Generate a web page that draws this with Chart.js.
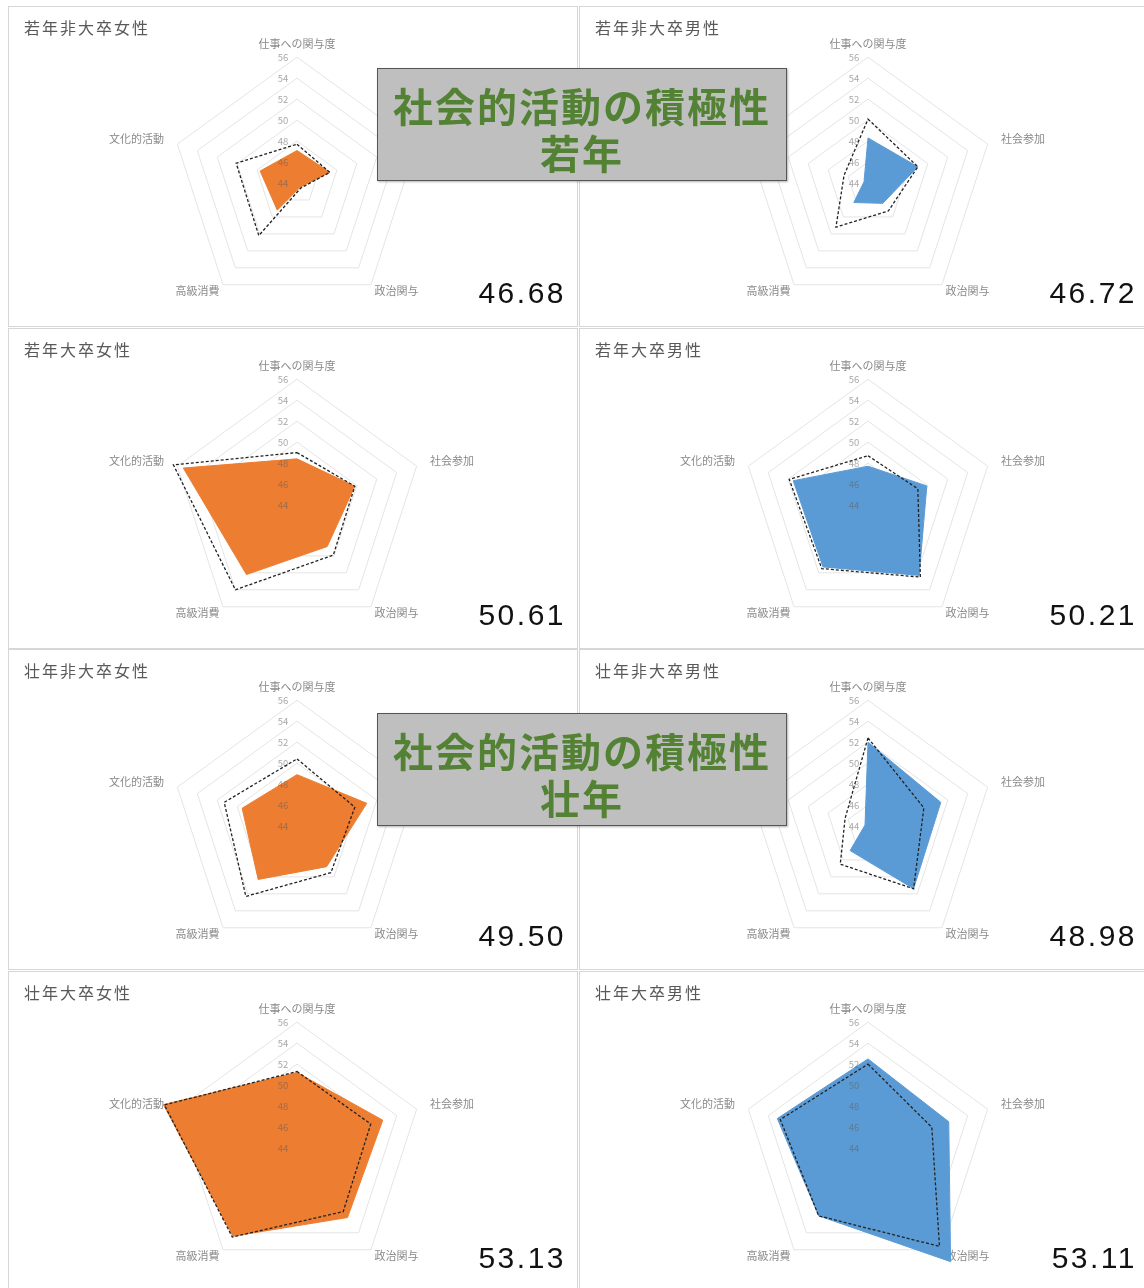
<!DOCTYPE html>
<html lang="ja">
<head>
<meta charset="utf-8">
<script src="https://cdn.jsdelivr.net/npm/chart.js@4.4.1/dist/chart.umd.min.js"></script>
<style>
  body{margin:0;width:1144px;height:1288px;overflow:hidden;background:#fff;position:relative;font-family:'Noto Sans CJK JP',sans-serif;}
  .panel{position:absolute;width:568px;height:319px;border:1px solid #d6d6d6;background:#fff;}
  .panel canvas{position:absolute;left:0;top:0;}
  .ptitle{position:absolute;left:15px;top:12px;font-size:16px;line-height:16px;letter-spacing:2px;color:#595959;}
  .score{position:absolute;right:11px;top:271px;font-family:'Liberation Sans',Arial,sans-serif;font-size:30px;line-height:30px;letter-spacing:2.5px;color:#111;}
  .banner{position:absolute;left:377px;width:410px;height:113px;box-sizing:border-box;background:#bfbfbf;border:1.5px solid #555;
    box-shadow:1px 1px 2px rgba(0,0,0,0.3);text-align:center;color:#548235;font-weight:bold;font-size:40px;line-height:47px;letter-spacing:2px;padding-top:13px;}
</style>
</head>
<body>
<div id="wrap"></div>
<div class="banner" style="top:68px;">社会的活動の積極性<br>若年</div>
<div class="banner" style="top:713px;">社会的活動の積極性<br>壮年</div>
<script>
//軸ラベル
var axisLabels = ['仕事への関与度', '社会参加', '政治関与', '高級消費', '文化的活動'];
//パネル名
var panelTitles = ['若年非大卒女性', '若年非大卒男性', '若年大卒女性', '若年大卒男性',
                   '壮年非大卒女性', '壮年非大卒男性', '壮年大卒女性', '壮年大卒男性'];
//右下の数値
var scores = [46.68, 46.72, 50.61, 50.21, 49.50, 48.98, 53.13, 53.11];
//塗りつぶしの系列
var groupValues = [
  [47.1, 47.3, 44.5, 47.2, 47.7],
  [48.3, 49.0, 46.4, 46.3, 44.4],
  [48.4, 49.8, 48.9, 52.2, 55.4],
  [47.7, 49.9, 52.3, 51.3, 51.5],
  [48.9, 51.0, 48.8, 50.3, 49.5],
  [52.0, 51.3, 51.4, 46.9, 44.3],
  [51.2, 52.6, 52.2, 54.4, 57.4],
  [52.5, 52.1, 57.4, 52.0, 53.1]
];
//点線の系列
var compareValues = [
  [47.7, 47.3, 44.6, 50.2, 50.1],
  [50.1, 49.0, 47.3, 49.2, 46.4],
  [49.0, 49.8, 49.9, 54.0, 56.4],
  [48.7, 49.0, 52.5, 51.5, 51.9],
  [50.4, 49.8, 49.5, 52.3, 51.3],
  [52.4, 49.6, 51.4, 48.5, 46.3],
  [51.3, 51.4, 51.5, 54.5, 57.3],
  [52.0, 50.4, 55.6, 52.0, 52.8]
];
//目盛り
var scaleMin = 44;
var scaleMax = 56;
var scaleStep = 2;

var femaleCol = '#ED7D31';
var maleCol = '#5B9BD5';

//目盛りの数字をデータの上に描く
var tickLabelPlugin = {
  id: 'tickLabels',
  afterDatasetsDraw: function(chart) {
    var r = chart.scales.r;
    var ctx = chart.ctx;
    ctx.save();
    ctx.font = "9.5px 'Noto Sans CJK JP', sans-serif";
    ctx.fillStyle = 'rgba(95,95,95,0.55)';
    ctx.textAlign = 'center';
    ctx.textBaseline = 'middle';
    r.ticks.forEach(function(t) {
      var d = r.getDistanceFromCenterForValue(t.value);
      ctx.fillText(t.label, r.xCenter - 14, r.yCenter - d);
    });
    ctx.restore();
  }
};

document.addEventListener('DOMContentLoaded', function() {
  Chart.defaults.font.family = "'Noto Sans CJK JP', sans-serif";
  var wrap = document.querySelector('#wrap');

  for (let i = 0; i < panelTitles.length; i++) {
    var col = i % 2;
    var row = Math.floor(i / 2);
    var panel = document.createElement('div');
    panel.className = 'panel';
    panel.style.left = (8 + col * 571) + 'px';
    panel.style.top = Math.round(6 + row * 321.5) + 'px';
    panel.innerHTML = '<canvas width="568" height="319"></canvas>' +
      '<div class="ptitle">' + panelTitles[i] + '</div>' +
      '<div class="score">' + scores[i].toFixed(2) + '</div>';
    wrap.appendChild(panel);

    var color = (col == 0) ? femaleCol : maleCol;
    var ctx = panel.querySelector('canvas').getContext('2d');
    new Chart(ctx, {
      type: 'radar',
      data: {
        labels: axisLabels,
        datasets: [{
          label: '比較',
          data: compareValues[i],
          borderColor: '#222',
          borderWidth: 1.3,
          borderDash: [3, 2],
          fill: false,
          pointRadius: 0,
        }, {
          label: panelTitles[i],
          data: groupValues[i],
          borderColor: color,
          backgroundColor: color,
          borderWidth: 1,
          fill: true,
          pointRadius: 0,
        }]
      },
      options: {
        responsive: false,
        animation: false,
        layout: { padding: { left: 8, right: 0, top: 29, bottom: 9 } },
        plugins: { legend: { display: false }, tooltip: { enabled: false } },
        elements: { line: { tension: 0 } },
        scales: {
          r: {
            min: scaleMin,
            max: scaleMax,
            ticks: { stepSize: scaleStep, display: false },
            grid: { color: '#e4e4e4', lineWidth: 1 },
            angleLines: { display: false },
            pointLabels: {
              color: '#8a8a8a',
              font: { size: 11, lineHeight: 0.2 },
              padding: function(c) { return (c.index == 0) ? 12 : (c.index == 1 || c.index == 4) ? 14 : 6; }
            }
          }
        }
      },
      plugins: [tickLabelPlugin]
    });
  }
});
</script>
</body>
</html>
